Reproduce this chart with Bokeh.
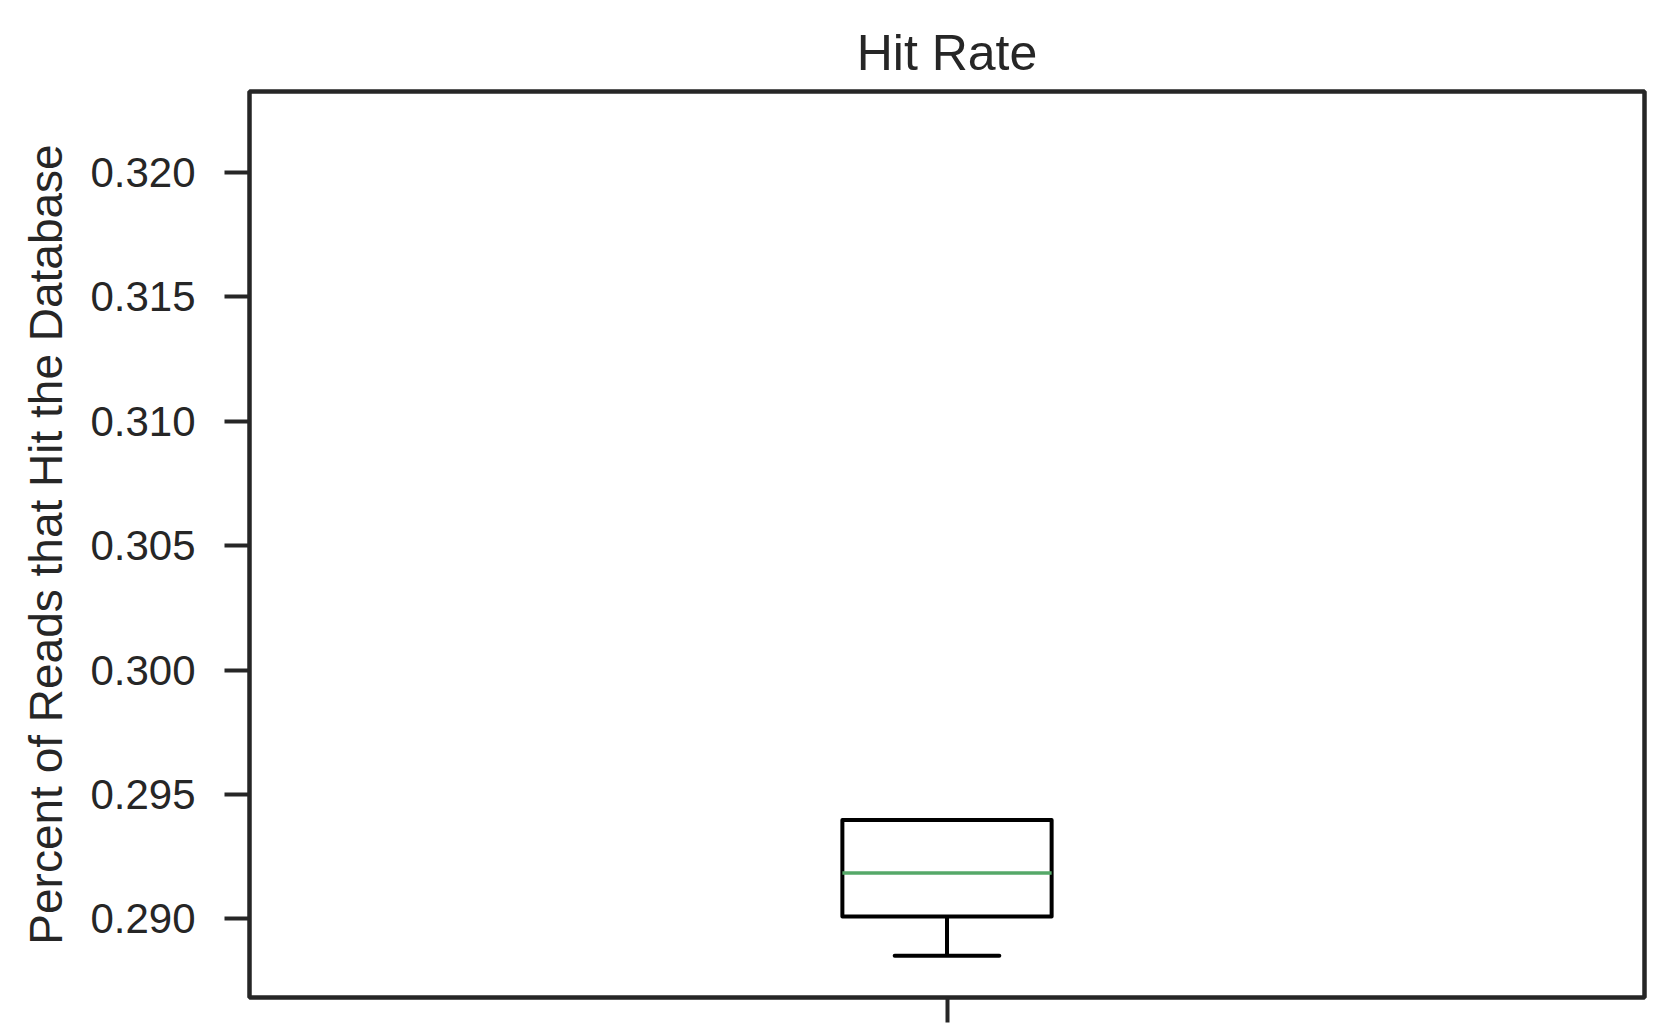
from bokeh.plotting import figure
from bokeh.models import Range1d, FixedTicker, NumeralTickFormatter
from bokeh.embed import file_html
from bokeh.resources import INLINE

# Data
positions = [1]
whisker_low = [0.28852]
q1 = [0.29010]
median = [0.29185]
q3 = [0.29398]
whisker_high = [0.29398]
y_ticks = [0.290, 0.295, 0.300, 0.305, 0.310, 0.315, 0.320]

TEXT = "#262626"
FONT = "Liberation Sans"
box_w = 0.15
cap_w = 0.075

p = figure(frame_width=1395, frame_height=906,
           min_border_left=249, min_border_right=35,
           min_border_top=91, min_border_bottom=36,
           x_range=Range1d(0.5, 1.5), y_range=Range1d(0.286844, 0.323256),
           output_backend="svg", toolbar_location=None,
           title="Hit Rate")

p.title.align = "center"
p.title.text_font = FONT
p.title.text_font_size = "50px"
p.title.text_font_style = "normal"
p.title.text_color = TEXT
p.title.standoff = 22

p.xgrid.visible = False
p.ygrid.visible = False
p.outline_line_color = TEXT
p.outline_line_width = 4.5
p.outline_line_alpha = 1
p.background_fill_color = "white"
p.border_fill_color = "white"

for ax in (p.xaxis, p.yaxis):
    ax.axis_line_color = None
    ax.major_tick_line_color = TEXT
    ax.major_tick_line_width = 4
    ax.major_tick_out = 25
    ax.major_tick_in = 0
    ax.minor_tick_line_color = None
    ax.major_label_text_font = FONT
    ax.major_label_text_color = TEXT
    ax.axis_label_text_font = FONT
    ax.axis_label_text_color = TEXT
    ax.axis_label_text_font_style = "normal"

p.yaxis.ticker = FixedTicker(ticks=y_ticks)
p.yaxis.formatter = NumeralTickFormatter(format="0.000")
p.yaxis.major_label_text_font_size = "42px"
p.yaxis.major_label_standoff = 29
p.yaxis.axis_label = "Percent of Reads that Hit the Database"
p.yaxis.axis_label_text_font_size = "46px"
p.yaxis.axis_label_standoff = 15

p.xaxis.ticker = FixedTicker(ticks=positions)
p.xaxis.major_label_overrides = {1: ""}
p.xaxis.major_label_text_font_size = "1px"

lefts = [x - box_w / 2 for x in positions]
rights = [x + box_w / 2 for x in positions]
cap_l = [x - cap_w / 2 for x in positions]
cap_r = [x + cap_w / 2 for x in positions]

LW = 4
# whiskers
p.segment(positions, q1, positions, whisker_low, line_color="black", line_width=LW)
p.segment(positions, q3, positions, whisker_high, line_color="black", line_width=LW)
p.segment(cap_l, whisker_low, cap_r, whisker_low, line_color="black", line_width=LW, line_cap="round")
p.segment(cap_l, whisker_high, cap_r, whisker_high, line_color="black", line_width=LW, line_cap="round")
# box
p.quad(left=lefts, right=rights, bottom=q1, top=q3, fill_color=None,
       line_color="black", line_width=LW, line_join="round")
# median
p.segment(lefts, median, rights, median, line_color="#55a868", line_width=3.5)

open("out.html", "w").write(file_html(p, INLINE))
